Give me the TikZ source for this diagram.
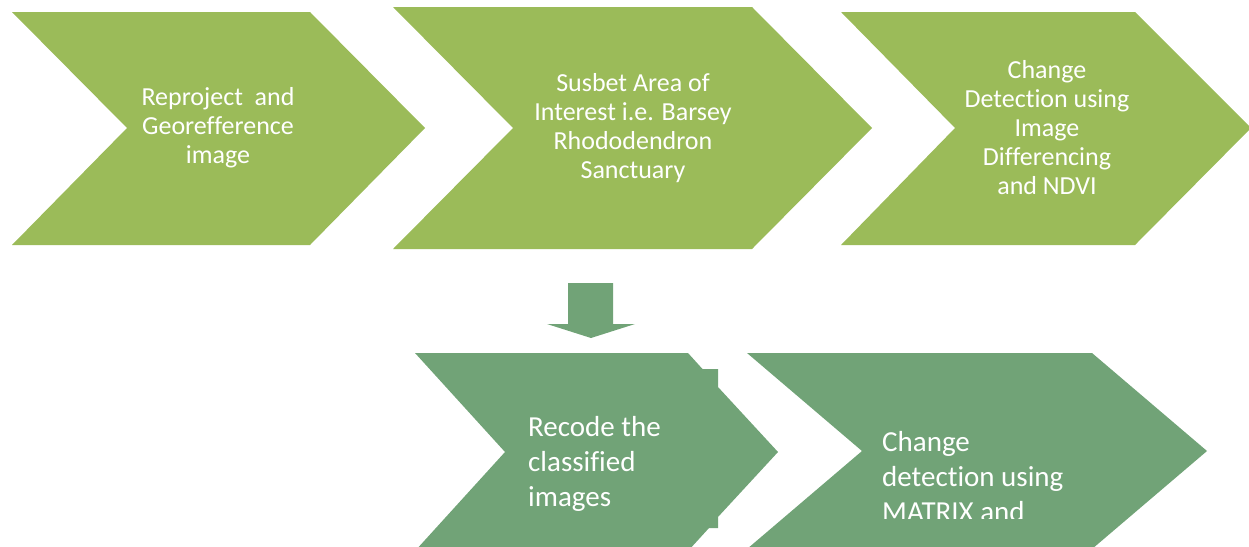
\documentclass[tikz,border=0pt]{standalone}
\usepackage{fontspec}
\setmainfont[Ligatures={NoCommon}]{Carlito}
\definecolor{topgreen}{HTML}{9BBB59}
\definecolor{botgreen}{HTML}{71A377}
\tikzset{
  toptext/.style={text=white, font=\fontsize{26}{29}\selectfont, align=center, inner sep=0pt},
  bottext/.style={text=white, font=\fontsize{29}{35}\selectfont, align=left, inner sep=0pt, anchor=north west},
}
\begin{document}
\begin{tikzpicture}[x=1pt,y=-1pt]
\useasboundingbox (0,0) rectangle (1249,546);
\clip (0,0) rectangle (1249,546);
% top row chevrons
\fill[topgreen] (12,12) -- (310,12) -- (425,128) -- (310,245) -- (12,245) -- (127,128) -- cycle;
\fill[topgreen] (393,7) -- (752,7) -- (872,128) -- (752,249) -- (393,249) -- (513,128) -- cycle;
\fill[topgreen] (841,12) -- (1135,12) -- (1251,128) -- (1135,245) -- (841,245) -- (955,128) -- cycle;
% down arrow
\fill[botgreen] (568,283) -- (613,283) -- (613,324) -- (635,324) -- (591,338) -- (547,324) -- (568,324) -- cycle;
% bottom row chevrons
\fill[botgreen] (415,353) -- (688,353) -- (702.5,369) -- (718,369) -- (718,387) -- (778,452)
  -- (718,517) -- (718,528) -- (709,528) -- (688,551) -- (415,551) -- (505,452) -- cycle;
\fill[botgreen] (747,353) -- (1092,353) -- (1207,451) -- (1092,549) -- (747,549) -- (862,451) -- cycle;
% texts
\node[toptext] (t1) at (218,128) {Reproject\ \ and\\Georefference\\image};
\node[toptext] (t2) at (633,128) {Susbet Area of\\Interest i.e. Barsey\\Rhododendron\\Sanctuary};
\node[toptext] (t3) at (1047,128) {Change\\Detection using\\Image\\Differencing\\and NDVI};
\node[bottext] (t4) at (528,416) {Recode the\\classified\\images};
\begin{scope}
\clip (740,340) rectangle (1249,518);
\node[bottext] (t5) at (882,431) {Change\\detection using\\MATRIX and};
\end{scope}
\end{tikzpicture}
\end{document}
